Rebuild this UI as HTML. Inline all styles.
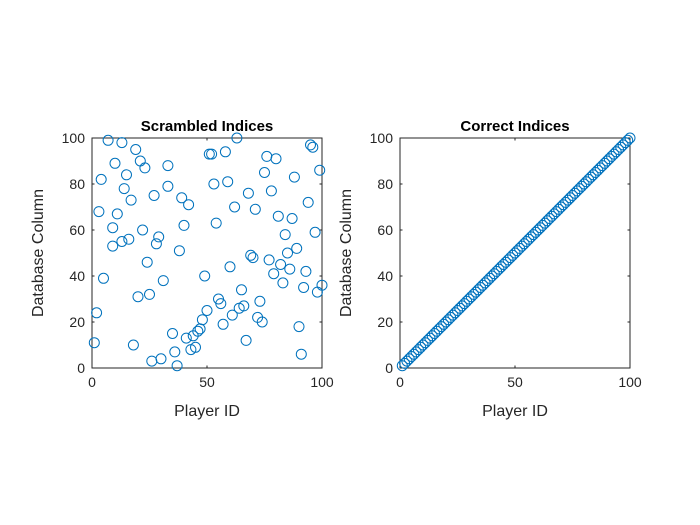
<!DOCTYPE html>
<html><head><meta charset="utf-8"><style>
body{margin:0;background:#fff;}
svg{display:block;font-family:"Liberation Sans",sans-serif;}
</style></head><body>
<svg id="fig" width="700" height="525" viewBox="0 0 700 525"></svg>
<script>
const scrX=[7,13,4,10,19,21,23,15,14,17,3,11,9,9,13,16,33,33,27,39,42,40,22,28,29,38,51,
63,52,58,76,80,95,96,99,75,53,59,68,78,88,94,62,71,54,81,87,84,97,89,85,69,70,
24,5,31,49,20,25,2,1,18,26,30,37,36,35,41,45,43,44,46,47,48,50,
66,73,77,82,86,93,60,79,83,92,100,98,65,56,55,64,61,72,74,90,57,67,91];
const scrY=[99,98,82,89,95,90,87,84,78,73,68,67,61,53,55,56,88,79,75,74,71,62,60,54,57,51,93,
100,93,94,92,91,97,96,86,85,80,81,76,77,83,72,70,69,63,66,65,58,59,52,50,49,48,
46,39,38,40,31,32,24,11,10,3,4,1,7,15,13,9,8,14,16,17,21,25,27,29,
47,45,43,42,44,41,37,35,36,33,34,28,30,26,23,22,20,18,19,12,6,5,2];
const corX=Array.from({length:100},(_,i)=>i+1);
const corY=Array.from({length:100},(_,i)=>i+1);
const xTicks=[0,50,100];
const yTicks=[0,20,40,60,80,100];
const NS="http://www.w3.org/2000/svg";
const svg=document.getElementById('fig');
function mk(tag,attrs,parent){const e=document.createElementNS(NS,tag);for(const k in attrs)e.setAttribute(k,attrs[k]);(parent||svg).appendChild(e);return e;}
function panel(x0,title,xs,ys,key){
  const y0=138,w=230,h=230;
  const g=mk('g',{});
  
  
  const sx=v=>x0+v/100*w, sy=v=>y0+h-v/100*h;
  const box=mk('rect',{x:x0,y:y0,width:w,height:h,fill:'#fff',stroke:'#262626','stroke-width':1},g);
  
  
  xTicks.forEach(t=>{
    mk('line',{x1:sx(t),x2:sx(t),y1:y0+h,y2:y0+h-2.5,stroke:'#262626'},g);
    mk('line',{x1:sx(t),x2:sx(t),y1:y0,y2:y0+2.5,stroke:'#262626'},g);
    const tx=mk('text',{x:sx(t),y:y0+h+19,'text-anchor':'middle','font-size':14,fill:'#262626'},g);
    tx.textContent=t;
    
    
  });
  yTicks.forEach(t=>{
    mk('line',{x1:x0,x2:x0+2.5,y1:sy(t),y2:sy(t),stroke:'#262626'},g);
    mk('line',{x1:x0+w,x2:x0+w-2.5,y1:sy(t),y2:sy(t),stroke:'#262626'},g);
    const tx=mk('text',{x:x0-7,y:sy(t)+5,'text-anchor':'end','font-size':14,fill:'#262626'},g);
    tx.textContent=t;
    
    
  });
  xs.forEach((v,i)=>{
    const c=mk('circle',{cx:sx(v),cy:sy(ys[i]),r:5,fill:'none',stroke:'#0072BD','stroke-width':1},g);
    
    
  });
  const tt=mk('text',{x:x0+w/2,y:y0-7,'text-anchor':'middle','font-size':15,'font-weight':'bold',fill:'#000'},g);
  tt.textContent=title;
  
  
  const xl=mk('text',{x:x0+w/2,y:y0+h+48,'text-anchor':'middle','font-size':16,fill:'#262626'},g);
  xl.textContent='Player ID';
  
  
  const yl=mk('text',{x:0,y:0,'text-anchor':'middle','font-size':16,fill:'#262626',transform:`translate(${x0-49},${y0+h/2}) rotate(-90)`},g);
  yl.textContent='Database Column';
  
  
}
panel(92,'Scrambled Indices',scrX,scrY,'scrambled');
panel(400,'Correct Indices',corX,corY,'correct');
</script>
</body></html>
